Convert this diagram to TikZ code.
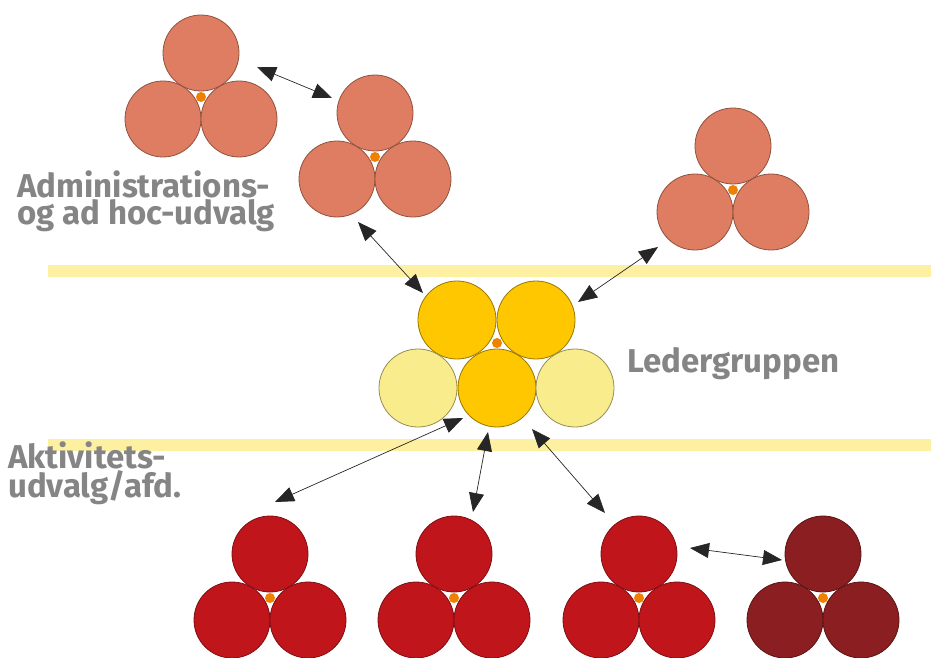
\documentclass[tikz,border=0pt]{standalone}
\usepackage{fontspec}
\setmainfont{Fira Sans}
\usetikzlibrary{arrows.meta}
\definecolor{salmon}{RGB}{222,125,97}
\definecolor{goldy}{RGB}{255,199,0}
\definecolor{paley}{RGB}{249,236,140}
\definecolor{redc}{RGB}{193,21,28}
\definecolor{darkr}{RGB}{138,30,32}
\definecolor{dotor}{RGB}{240,128,0}
\definecolor{bandy}{RGB}{253,240,160}
\definecolor{txtgray}{RGB}{133,133,133}
\tikzset{
  ball/.style={circle, minimum size=76pt, inner sep=0pt, line width=0.8pt, fill=#1, draw=#1!65!black},
  bigball/.style={circle, minimum size=78pt, inner sep=0pt, line width=0.8pt, fill=#1, draw=#1!60!black},
  hub/.style={circle, fill=dotor, minimum size=10pt, inner sep=0pt},
  link/.style={{Triangle[length=19pt,width=15pt]}-{Triangle[length=19pt,width=15pt]}, line width=0.7pt, draw=black!85},
  band/.style={line width=12pt, draw=bandy},
  lbl/.style={font=\fontsize{33}{27}\selectfont\bfseries, text=txtgray, align=left, anchor=base west, inner sep=0pt}
}
\newcommand\trio[4]{%
  \node[ball=#4] (#1t) at (#2,#3-44) {};
  \node[ball=#4] (#1l) at (#2-38,#3+22) {};
  \node[ball=#4] (#1r) at (#2+38,#3+22) {};
  \node[hub] (#1h) at (#2,#3) {};
}
\begin{document}
\begin{tikzpicture}[x=1pt,y=-1pt]
\useasboundingbox (0,0) rectangle (931,658);
% bands
\coordinate (b1s) at (48,271); \coordinate (b1e) at (931,271);
\coordinate (b2s) at (48,445); \coordinate (b2e) at (931,445);
\draw[band] (b1s) -- (b1e);
\draw[band] (b2s) -- (b2e);
% clusters
\trio{A}{201}{97}{salmon}
\trio{B}{375}{157}{salmon}
\trio{C}{733}{190}{salmon}
\trio{D}{270}{598}{redc}
\trio{E}{454}{598}{redc}
\trio{F}{639}{598}{redc}
\trio{G}{823}{598}{darkr}
% Ledergruppen
\node[bigball=goldy] (L1) at (457,320) {};
\node[bigball=goldy] (L2) at (536,320) {};
\node[bigball=paley] (L3) at (418,388) {};
\node[bigball=goldy] (L4) at (497,388) {};
\node[bigball=paley] (L5) at (575,388) {};
\node[hub] (Lh) at (497,343) {};
% arrow ends
\coordinate (ab1) at (257,67);  \coordinate (ab2) at (332,98);
\coordinate (bl1) at (358,222); \coordinate (bl2) at (423,293);
\coordinate (cl1) at (658,247); \coordinate (cl2) at (578,302);
\coordinate (ld1) at (463,418); \coordinate (ld2) at (275,502);
\coordinate (le1) at (488,432); \coordinate (le2) at (473,512);
\coordinate (lf1) at (532,429); \coordinate (lf2) at (605,513);
\coordinate (fg1) at (690,548); \coordinate (fg2) at (782,560);
\draw[link] (ab1) -- (ab2);
\draw[link] (bl1) -- (bl2);
\draw[link] (cl1) -- (cl2);
\draw[link] (ld1) -- (ld2);
\draw[link] (le1) -- (le2);
\draw[link] (lf1) -- (lf2);
\draw[link] (fg1) -- (fg2);
% labels
\node[lbl] (admin) at (17,224) {Administrations-\\og ad hoc-udvalg};
\node[lbl] (leder) at (627,372) {Ledergruppen};
\node[lbl] (aktiv) at (8,497) {Aktivitets-\\udvalg/afd.};
\end{tikzpicture}
\end{document}
